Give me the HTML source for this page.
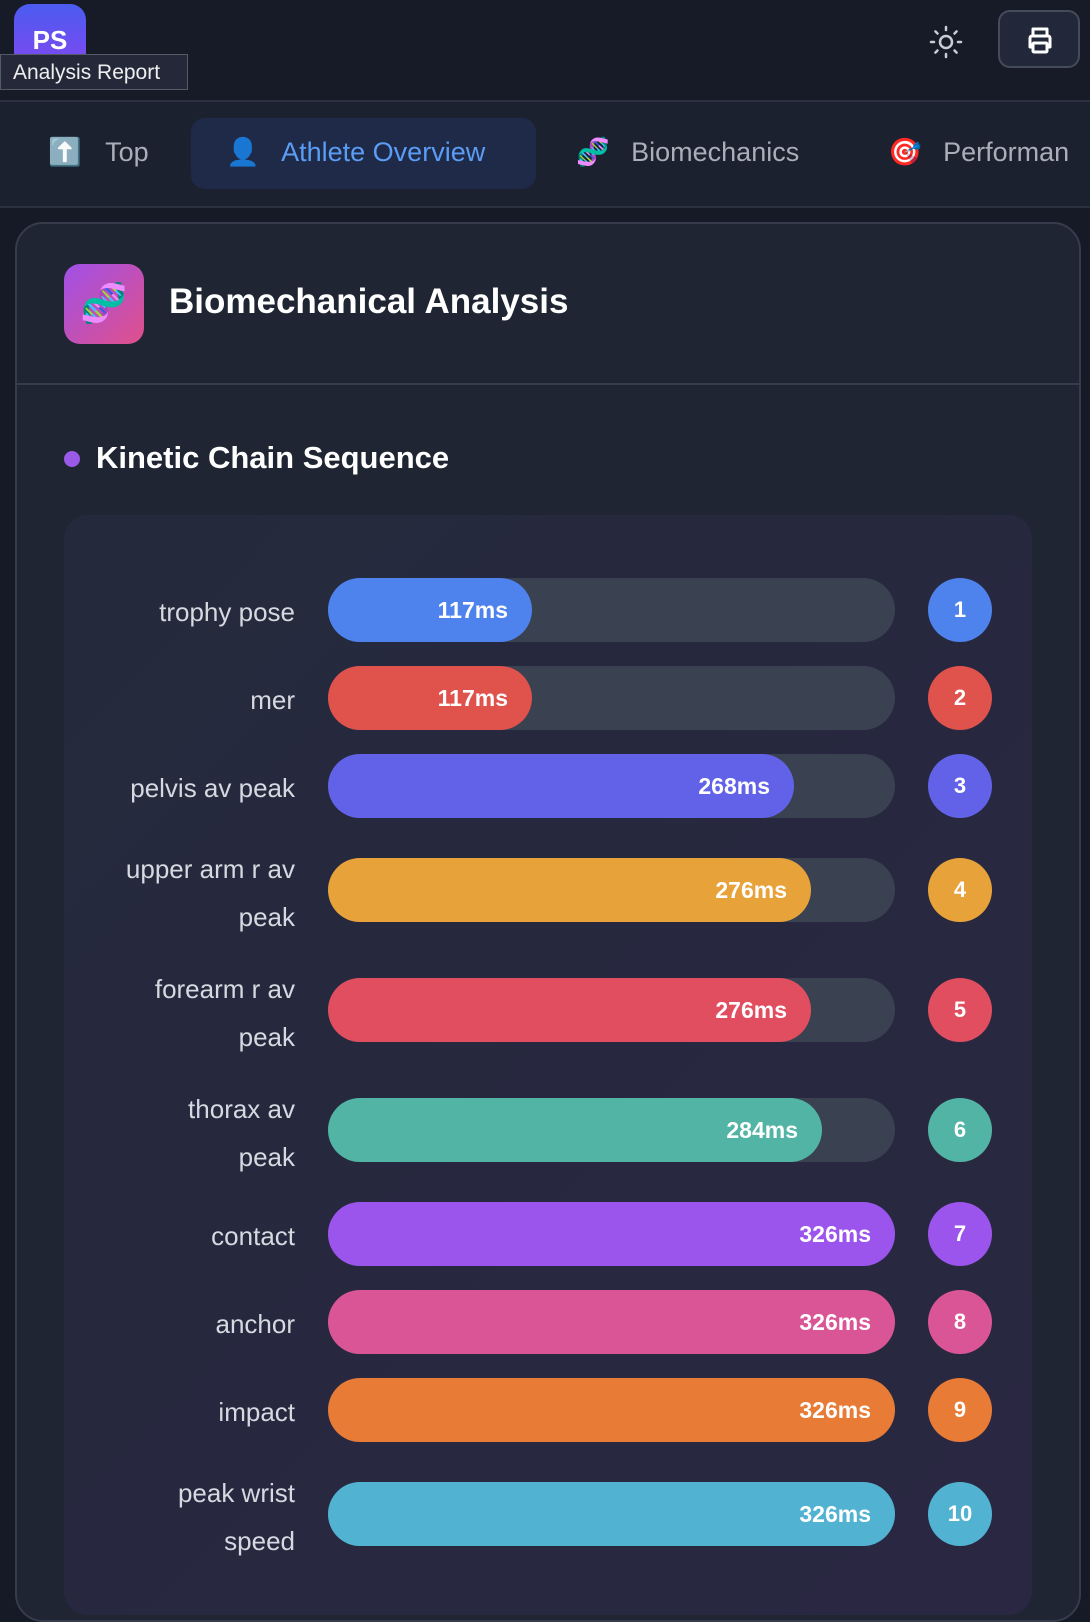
<!DOCTYPE html><html><head><style>
body{margin:0;width:1090px;height:1564px;overflow:hidden;background:#161a26;font-family:"Liberation Sans",sans-serif;position:relative}
.a{position:absolute}
.lbl{position:absolute;right:795px;text-align:right;color:#d6d9e0;font-size:26px;line-height:48px;width:240px}
.tr{position:absolute;left:328px;width:567px;height:64px;border-radius:32px;background:#3a4150}
.fl{height:64px;border-radius:32px;color:#fff;font-weight:bold;font-size:23px;line-height:64px;text-align:right;padding-right:24px;box-sizing:border-box}
.c{position:absolute;left:928px;width:64px;height:64px;border-radius:50%;color:#fff;font-weight:bold;font-size:22px;line-height:64px;text-align:center}
</style></head><body>
<div class="a" style="left:0;top:0;width:1090px;height:100px;background:#171b28;border-bottom:2px solid #2a3040"></div>
<div class="a" style="left:14px;top:4px;width:72px;height:56px;border-radius:16px 16px 0 0;background:linear-gradient(#4b5cf0,#7a4af0);color:#fff;font-weight:bold;font-size:26px;text-align:center;line-height:72px;overflow:hidden">PS</div>
<div class="a" style="left:0;top:54px;width:188px;height:36px;background:#252838;border:1px solid #555a68;color:#eee;font-size:21px;line-height:36px;padding-left:12px;box-sizing:border-box">Analysis Report</div>
<svg class="a" style="left:928px;top:24px" width="36" height="36" viewBox="0 0 36 36" fill="none" stroke="#c8ccd4" stroke-width="2.5" stroke-linecap="round"><circle cx="18" cy="18" r="6"/><path d="M18 3v3M18 30v3M3 18h3M30 18h3M7.4 7.4l2.1 2.1M26.5 26.5l2.1 2.1M7.4 28.6l2.1-2.1M26.5 9.5l2.1-2.1"/></svg>
<div class="a" style="left:998px;top:10px;width:82px;height:58px;border:2px solid #444b5a;border-radius:12px;background:#22283a;box-sizing:border-box"></div>
<svg class="a" style="left:1025px;top:25px" width="30" height="30" viewBox="0 0 30 30" fill="none" stroke="#fff" stroke-width="3" stroke-linejoin="round"><path d="M8 11V4h14v7M8 22H5v-9a2 2 0 012-2h16a2 2 0 012 2v9h-3"/><rect x="8" y="18" width="14" height="9" rx="1"/></svg>
<div class="a" style="left:0;top:102px;width:1090px;height:104px;background:#1c2130;border-bottom:2px solid #2a3040"></div>
<div class="a" style="left:48px;top:136px;font-size:27px;color:#a9aeb8">⬆️ <span style="margin-left:16px">Top</span></div>
<div class="a" style="left:191px;top:118px;width:345px;height:71px;border-radius:14px;background:#1f2a48"></div>
<div class="a" style="left:226px;top:136px;font-size:27px;color:#5b9cf5">👤 <span style="margin-left:14px">Athlete Overview</span></div>
<div class="a" style="left:576px;top:136px;font-size:27px;color:#a9aeb8">🧬 <span style="margin-left:14px">Biomechanics</span></div>
<div class="a" style="left:888px;top:136px;font-size:27px;color:#a9aeb8;white-space:nowrap">🎯 <span style="margin-left:14px">Performan</span></div>
<div class="a" style="left:15px;top:222px;width:1066px;height:1400px;border:2px solid #363c4c;border-radius:28px;background:#1f2533;box-sizing:border-box"></div>
<div class="a" style="left:17px;top:383px;width:1062px;height:2px;background:#363c4c"></div>
<div class="a" style="left:64px;top:264px;width:80px;height:80px;border-radius:16px;background:linear-gradient(135deg,#a050e8,#e0508a);font-size:38px;text-align:center;line-height:80px">🧬</div>
<div class="a" style="left:169px;top:282px;color:#fff;font-weight:bold;font-size:35px">Biomechanical Analysis</div>
<div class="a" style="left:64px;top:451px;width:16px;height:16px;border-radius:50%;background:#9b59e8"></div>
<div class="a" style="left:96px;top:440px;color:#fff;font-weight:bold;font-size:31px">Kinetic Chain Sequence</div>
<div class="a" style="left:64px;top:515px;width:968px;height:1100px;border-radius:24px;background:linear-gradient(135deg,#242a3c,#2a2742)"></div>

<div class="lbl" style="top:588px">trophy pose</div>
<div class="tr" style="top:578px"><div class="fl" style="width:204px;background:#4e82ec">117ms</div></div>
<div class="c" style="top:578px;background:#4e82ec">1</div>
<div class="lbl" style="top:676px">mer</div>
<div class="tr" style="top:666px"><div class="fl" style="width:204px;background:#e0524c">117ms</div></div>
<div class="c" style="top:666px;background:#e0524c">2</div>
<div class="lbl" style="top:764px">pelvis av peak</div>
<div class="tr" style="top:754px"><div class="fl" style="width:466px;background:#6262e8">268ms</div></div>
<div class="c" style="top:754px;background:#6262e8">3</div>
<div class="lbl" style="top:845px">upper arm r av<br>peak</div>
<div class="tr" style="top:858px"><div class="fl" style="width:483px;background:#e8a23a">276ms</div></div>
<div class="c" style="top:858px;background:#e8a23a">4</div>
<div class="lbl" style="top:965px">forearm r av<br>peak</div>
<div class="tr" style="top:978px"><div class="fl" style="width:483px;background:#e04e60">276ms</div></div>
<div class="c" style="top:978px;background:#e04e60">5</div>
<div class="lbl" style="top:1085px">thorax av<br>peak</div>
<div class="tr" style="top:1098px"><div class="fl" style="width:494px;background:#52b4a4">284ms</div></div>
<div class="c" style="top:1098px;background:#52b4a4">6</div>
<div class="lbl" style="top:1212px">contact</div>
<div class="tr" style="top:1202px"><div class="fl" style="width:567px;background:#9b55ec">326ms</div></div>
<div class="c" style="top:1202px;background:#9b55ec">7</div>
<div class="lbl" style="top:1300px">anchor</div>
<div class="tr" style="top:1290px"><div class="fl" style="width:567px;background:#da5596">326ms</div></div>
<div class="c" style="top:1290px;background:#da5596">8</div>
<div class="lbl" style="top:1388px">impact</div>
<div class="tr" style="top:1378px"><div class="fl" style="width:567px;background:#e87b36">326ms</div></div>
<div class="c" style="top:1378px;background:#e87b36">9</div>
<div class="lbl" style="top:1469px">peak wrist<br>speed</div>
<div class="tr" style="top:1482px"><div class="fl" style="width:567px;background:#52b2d2">326ms</div></div>
<div class="c" style="top:1482px;background:#52b2d2">10</div>
</body></html>
